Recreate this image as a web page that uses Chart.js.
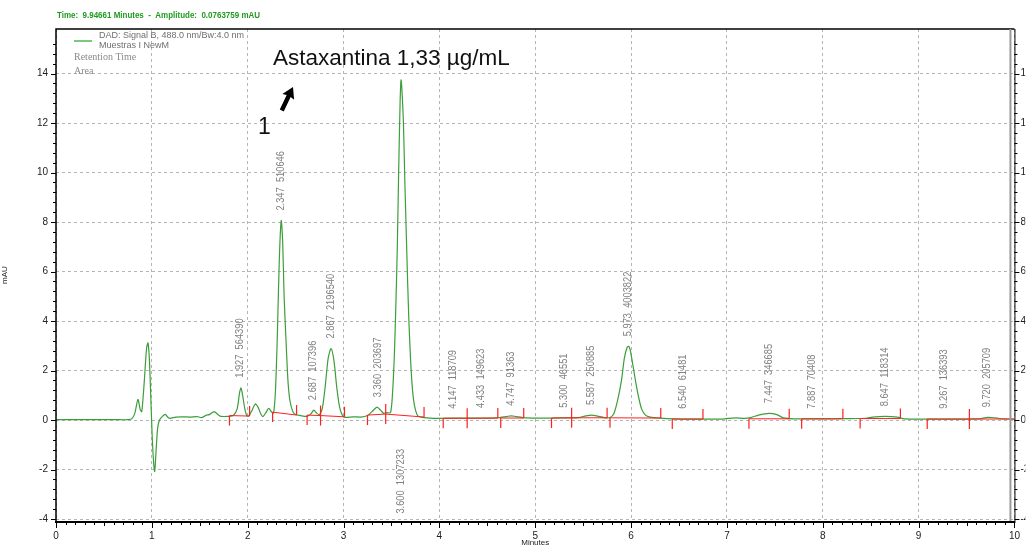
<!DOCTYPE html>
<html>
<head>
<meta charset="utf-8">
<script src="https://cdn.jsdelivr.net/npm/chart.js@4.4.0/dist/chart.umd.min.js"></script>
<style>
  html, body { margin: 0; padding: 0; background: #fff; }
  #wrap { width: 1029px; height: 548px; }
</style>
</head>
<body>
<div id="wrap"><canvas id="chrom" width="1029" height="548"></canvas></div>
<script>
// ===== trace data =====
const times = [
  0.00, 0.30, 0.60, 0.78, 0.82, 0.855, 0.88, 0.895, 0.92, 0.945, 0.96, 0.975, 0.99, 1.005, 1.02, 1.03, 1.045, 1.06, 1.08,
  1.11, 1.14, 1.17, 1.19, 1.25, 1.32, 1.40, 1.47, 1.52, 1.57, 1.60, 1.65, 1.69, 1.72, 1.80,
  1.85, 1.89, 1.915, 1.93, 1.945, 1.97, 1.99, 2.01, 2.04, 2.08, 2.11, 2.14, 2.16, 2.19, 2.22, 2.25, 2.27,
  2.29, 2.31, 2.33, 2.35, 2.365, 2.38, 2.40, 2.42, 2.44, 2.47, 2.50, 2.55, 2.62, 2.66, 2.69, 2.72, 2.75,
  2.78, 2.81, 2.84, 2.87, 2.90, 2.93, 2.96, 2.99, 3.02, 3.10, 3.18, 3.25, 3.30, 3.35, 3.39, 3.42, 3.45,
  3.49, 3.51, 3.53, 3.545, 3.56, 3.575, 3.59, 3.60, 3.61, 3.625, 3.64, 3.66, 3.68, 3.70, 3.72, 3.745, 3.78,
  3.90, 4.00, 4.20, 4.40, 4.60, 4.70, 4.75, 4.80, 4.90, 5.10, 5.30, 5.45, 5.53, 5.59, 5.65, 5.72, 5.78,
  5.82, 5.86, 5.90, 5.93, 5.96, 5.975, 5.99, 6.02, 6.05, 6.08, 6.11, 6.15, 6.20, 6.30, 6.45, 6.70, 6.95,
  7.05, 7.10, 7.18, 7.25, 7.33, 7.44, 7.52, 7.59, 7.70, 7.90, 8.10, 8.30, 8.45, 8.52, 8.65, 8.78, 8.85,
  9.10, 9.40, 9.65, 9.72, 9.80, 9.88, 10.00
];
const mAU = [
  0.02, 0.02, 0.02, 0.03, 0.25, 0.83, 0.40, 0.34, 1.50, 2.90, 3.12, 2.40, 0.80, -0.80, -1.80, -2.08, -1.20, -0.35, 0.00,
  0.15, 0.23, 0.10, 0.07, 0.12, 0.13, 0.12, 0.14, 0.10, 0.20, 0.22, 0.34, 0.22, 0.15, 0.15,
  0.18, 0.45, 1.10, 1.30, 1.05, 0.45, 0.18, 0.16, 0.35, 0.65, 0.50, 0.22, 0.14, 0.30, 0.47, 0.32, 0.28,
  1.20, 3.50, 6.50, 8.06, 7.20, 5.00, 3.20, 1.60, 0.80, 0.35, 0.22, 0.18, 0.15, 0.25, 0.40, 0.28, 0.22,
  0.50, 1.40, 2.50, 2.89, 2.40, 1.30, 0.50, 0.18, 0.11, 0.13, 0.12, 0.18, 0.35, 0.52, 0.38, 0.27, 0.30,
  0.30, 1.00, 2.60, 4.50, 6.80, 10.00, 12.80, 13.74, 13.30, 12.00, 9.60, 6.80, 4.20, 2.40, 1.20, 0.50, 0.15,
  0.08, 0.07, 0.08, 0.08, 0.09, 0.14, 0.17, 0.14, 0.09, 0.08, 0.09, 0.10, 0.17, 0.20, 0.16, 0.10, 0.10,
  0.25, 0.80, 1.60, 2.50, 2.95, 2.98, 2.85, 2.20, 1.50, 0.90, 0.45, 0.20, 0.12, 0.08, 0.05, 0.04, 0.04,
  0.08, 0.09, 0.07, 0.10, 0.20, 0.27, 0.22, 0.09, 0.05, 0.05, 0.05, 0.06, 0.07, 0.12, 0.15, 0.12, 0.05,
  0.04, 0.04, 0.06, 0.11, 0.09, 0.05, 0.04
];

// integration baselines (red): start / end time and level
const baseStart = [1.81, 2.26, 2.62, 2.76, 3.25, 3.44, 4.04, 4.29, 4.64, 5.17, 5.38, 5.78, 6.43, 7.23, 7.78, 8.39, 9.09, 9.53];
const baseEnd   = [2.02, 2.51, 2.76, 3.01, 3.44, 3.84, 4.29, 4.61, 4.88, 5.38, 5.75, 6.31, 6.75, 7.65, 8.21, 8.81, 9.53, 10.0];
const baseStartLevel = [0.18, 0.32, 0.20, 0.18, 0.20, 0.24, 0.07, 0.07, 0.08, 0.08, 0.09, 0.09, 0.04, 0.05, 0.05, 0.06, 0.04, 0.04];
const baseEndLevel   = [0.16, 0.20, 0.18, 0.13, 0.24, 0.12, 0.07, 0.08, 0.08, 0.09, 0.09, 0.08, 0.04, 0.05, 0.05, 0.06, 0.04, 0.04];

// peak table (retention time, area)
const peakRT   = [1.927, 2.347, 2.687, 2.867, 3.360, 3.600, 4.147, 4.433, 4.747, 5.300, 5.587, 5.973, 6.540, 7.447, 7.887, 8.647, 9.267, 9.720];
const peakArea = [564390, 510646, 107396, 2196540, 203697, 1307233, 118709, 149623, 91363, 46551, 250885, 4003822, 61481, 346685, 70408, 118314, 136393, 205709];

const xTicks = [0, 1, 2, 3, 4, 5, 6, 7, 8, 9, 10];
const yTicks = [-4, -2, 0, 2, 4, 6, 8, 10, 12, 14];

// ===== build datasets =====
const traceData = times.map((t, i) => ({ x: t, y: mAU[i] }));
const baseData = [];
baseStart.forEach((s, i) => {
  baseData.push({ x: s, y: baseStartLevel[i] });
  baseData.push({ x: baseEnd[i], y: baseEndLevel[i] });
  baseData.push({ x: baseEnd[i], y: null });
});

const NARROW = "'Liberation Sans Narrow', 'Liberation Sans', Arial, sans-serif";
const GREEN = '#3a9e3a';
const RED = '#ff1f1f';

function apexNear(rt) {
  let best = -Infinity;
  times.forEach((t, i) => { if (Math.abs(t - rt) <= 0.05 && mAU[i] > best) best = mAU[i]; });
  return best === -Infinity ? 0.05 : best;
}

// text squeezed horizontally to a given width (the instrument font is narrow)
function fitText(ctx, txt, x0, y0, width) {
  const w = ctx.measureText(txt).width;
  ctx.save();
  ctx.translate(x0, y0);
  ctx.scale(width / w, 1);
  ctx.fillText(txt, 0, 0);
  ctx.restore();
}

const overlay = {
  id: 'overlay',
  afterDatasetsDraw(chart) {
    const { ctx, chartArea: a, scales } = chart;
    const x = scales.x, y = scales.y;
    ctx.save();

    // integration tick marks
    ctx.strokeStyle = RED;
    ctx.lineWidth = 1.2;
    baseStart.forEach((s, i) => {
      const px = x.getPixelForValue(s);
      const py = y.getPixelForValue(baseStartLevel[i]);
      ctx.beginPath(); ctx.moveTo(px, py); ctx.lineTo(px, py + 10); ctx.stroke();
      if (baseEnd[i] < 10) {
        const ex = x.getPixelForValue(baseEnd[i]);
        const ey = y.getPixelForValue(baseEndLevel[i]);
        ctx.beginPath(); ctx.moveTo(ex, ey); ctx.lineTo(ex, ey - 10); ctx.stroke();
      }
    });

    // peak labels
    ctx.fillStyle = '#808080';
    ctx.font = '10px ' + NARROW;
    ctx.textBaseline = 'middle';
    ctx.textAlign = 'left';
    peakRT.forEach((rt, i) => {
      const txt = rt.toFixed(3) + '  ' + peakArea[i];
      const w = ctx.measureText(txt).width * 0.93;
      const px = x.getPixelForValue(rt);
      let start = y.getPixelForValue(apexNear(rt)) - 10;
      if (start - w < a.top + 4) start = y.getPixelForValue(-3.78);
      ctx.save();
      ctx.translate(px, start);
      ctx.rotate(-Math.PI / 2);
      ctx.scale(0.93, 1);
      ctx.fillText(txt, 0, 0);
      ctx.restore();
    });

    // axes frame
    ctx.strokeStyle = '#000';
    ctx.lineWidth = 1.5;
    ctx.beginPath();
    ctx.moveTo(a.left, a.bottom); ctx.lineTo(a.left, a.top); ctx.lineTo(a.right, a.top);
    ctx.stroke();
    ctx.lineWidth = 2;
    ctx.beginPath(); ctx.moveTo(a.left - 1, a.bottom + 1); ctx.lineTo(a.right + 1, a.bottom + 1); ctx.stroke();
    ctx.lineWidth = 1;
    ctx.beginPath(); ctx.moveTo(a.right + 0.5, a.top); ctx.lineTo(a.right + 0.5, a.bottom); ctx.stroke();
    ctx.strokeStyle = '#9a9a9a';
    ctx.lineWidth = 2;
    ctx.beginPath(); ctx.moveTo(a.right - 4, a.top); ctx.lineTo(a.right - 4, a.bottom); ctx.stroke();

    // axis ticks
    ctx.strokeStyle = '#000';
    ctx.lineWidth = 1;
    for (let v = -4; v <= 15.6; v += 0.4) {
      const py = Math.round(y.getPixelForValue(v)) + 0.5;
      const major = Math.abs(v / 2 - Math.round(v / 2)) < 0.01;
      const len = major ? 5 : 3;
      ctx.beginPath(); ctx.moveTo(a.left - len, py); ctx.lineTo(a.left, py); ctx.stroke();
      ctx.beginPath(); ctx.moveTo(a.right, py); ctx.lineTo(a.right + len, py); ctx.stroke();
    }
    for (let t = 0; t <= 10.001; t += 0.1) {
      const px = Math.round(x.getPixelForValue(t)) + 0.5;
      const r = Math.round(t * 10);
      const len = r % 10 === 0 ? 6 : (r % 5 === 0 ? 4 : 3);
      ctx.beginPath(); ctx.moveTo(px, a.bottom + 1); ctx.lineTo(px, a.bottom + 1 + len); ctx.stroke();
    }

    // header line
    ctx.fillStyle = '#1f9a1f';
    ctx.font = "bold 9px 'Liberation Sans', Arial, sans-serif";
    ctx.textBaseline = 'middle';
    fitText(ctx, 'Time:  9.94661 Minutes  -  Amplitude:  0.0763759 mAU', 57, 16, 203);

    // legend block
    ctx.strokeStyle = '#4cb84c';
    ctx.lineWidth = 1.5;
    ctx.beginPath(); ctx.moveTo(74, 41); ctx.lineTo(92, 41); ctx.stroke();
    ctx.fillStyle = '#6f6f6f';
    ctx.font = "9px 'Liberation Sans', Arial, sans-serif";
    ctx.fillText('DAD: Signal B, 488.0 nm/Bw:4.0 nm', 99, 36);
    ctx.fillText('Muestras I NewM', 99, 46);
    ctx.fillStyle = '#8a8a8a';
    ctx.font = "10px 'Liberation Serif', 'DejaVu Serif', serif";
    ctx.fillText('Retention Time', 74, 57);
    ctx.fillText('Area', 74, 71);

    // annotation
    ctx.fillStyle = '#111';
    ctx.textBaseline = 'alphabetic';
    ctx.font = "22.5px 'Liberation Sans', Arial, sans-serif";
    ctx.fillText('Astaxantina 1,33 µg/mL', 273, 65);
    ctx.font = "23px 'Liberation Sans', Arial, sans-serif";
    ctx.fillText('1', 258, 134);

    // arrow
    ctx.save();
    ctx.translate(293, 87);
    ctx.rotate(Math.atan2(293 - 281, 112 - 87));
    ctx.fillStyle = '#000';
    ctx.beginPath();
    ctx.moveTo(0, 0);
    ctx.lineTo(6.5, 11);
    ctx.lineTo(2.2, 10);
    ctx.lineTo(2.2, 26);
    ctx.lineTo(-2.2, 26);
    ctx.lineTo(-2.2, 10);
    ctx.lineTo(-6.5, 11);
    ctx.closePath();
    ctx.fill();
    ctx.restore();

    ctx.restore();
  }
};

new Chart(document.getElementById('chrom'), {
  type: 'line',
  data: {
    datasets: [
      {
        label: 'DAD: Signal B, 488.0 nm/Bw:4.0 nm',
        data: traceData,
        borderColor: GREEN,
        borderWidth: 1.2,
        pointRadius: 0,
        tension: 0.25,
        fill: false,
        order: 2,
      },
      {
        label: 'baseline',
        data: baseData,
        borderColor: RED,
        borderWidth: 1,
        pointRadius: 0,
        spanGaps: false,
        fill: false,
        order: 1,
      },
    ],
  },
  options: {
    responsive: false,
    animation: false,
    layout: { padding: { top: 29, left: 0, right: 0, bottom: 0 } },
    plugins: { legend: { display: false }, tooltip: { enabled: false } },
    scales: {
      x: {
        type: 'linear',
        min: 0,
        max: 10,
        afterBuildTicks: s => { s.ticks = xTicks.map(v => ({ value: v })); },
        afterFit: s => { s.height = 27; },
        grid: { color: '#b5b5b5', drawTicks: false },
        border: { display: false, dash: [3, 3] },
        ticks: { color: '#222', padding: 9, font: { family: NARROW, size: 10 }, maxRotation: 0 },
        title: { display: true, text: 'Minutes', color: '#222', font: { family: NARROW, size: 8 }, padding: { top: 0, bottom: 0 } },
      },
      y: {
        type: 'linear',
        position: 'left',
        min: -4.08,
        max: 15.8,
        afterBuildTicks: s => { s.ticks = yTicks.map(v => ({ value: v })); },
        afterFit: s => { s.width = 56; },
        grid: { color: '#b5b5b5', drawTicks: false },
        border: { display: false, dash: [3, 3] },
        ticks: { color: '#222', padding: 8, font: { family: NARROW, size: 10 } },
        title: { display: true, text: 'mAU', color: '#222', font: { family: NARROW, size: 8 }, padding: { top: 0, bottom: 0 } },
      },
      y2: {
        type: 'linear',
        position: 'right',
        min: -4.08,
        max: 15.8,
        afterBuildTicks: s => { s.ticks = yTicks.map(v => ({ value: v })); },
        afterFit: s => { s.width = 11; },
        grid: { display: false, drawTicks: false },
        border: { display: false },
        ticks: { color: '#222', padding: 6, font: { family: NARROW, size: 10 } },
      },
    },
  },
  plugins: [overlay],
});
</script>
</body>
</html>
